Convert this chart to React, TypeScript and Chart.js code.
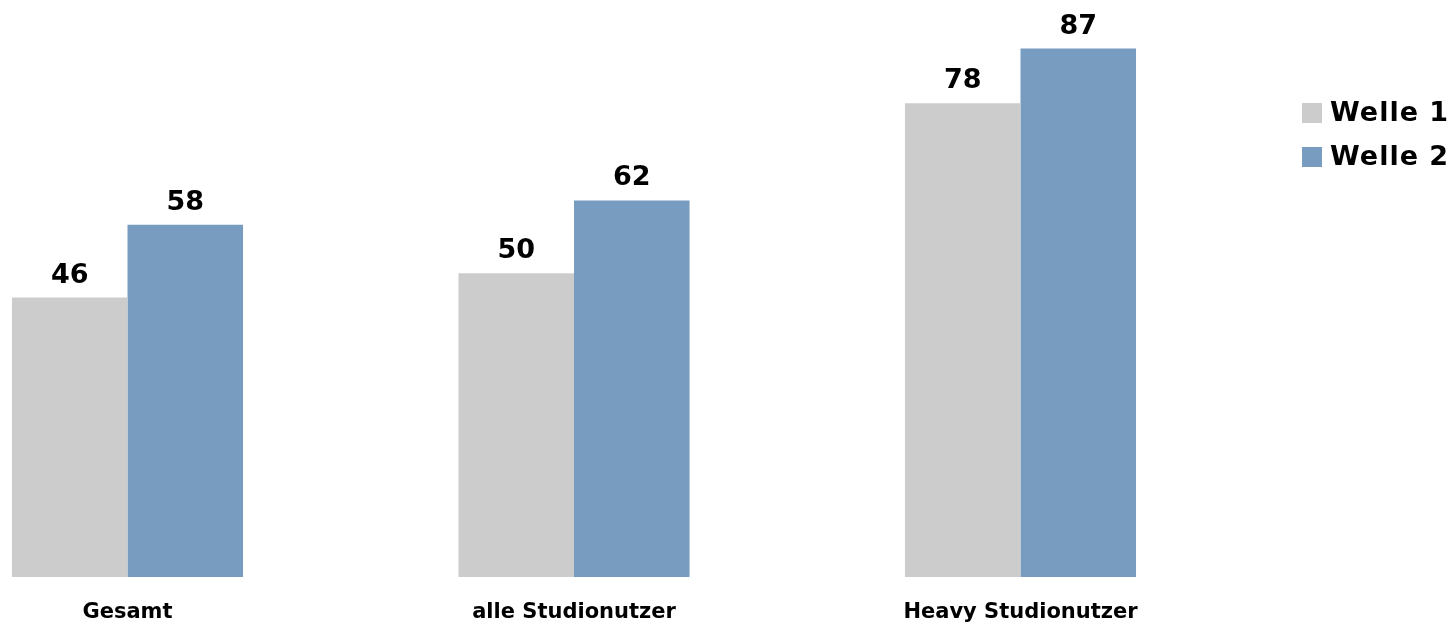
import React, { useEffect, useRef } from "react";
import { Chart, registerables } from "chart.js";

Chart.register(...registerables);

const categories = ["Gesamt", "alle Studionutzer", "Heavy Studionutzer"];
const welle1 = [46, 50, 78];
const welle2 = [58, 62, 87];
const seriesLabels = ["Welle 1", "Welle 2"];
const seriesColors = ["#CCCCCC", "#789CBF"];

const FONT = "'DejaVu Sans', Verdana, sans-serif";
const OFFSET = 100; // canvas extends left of the page so the first category is cut like the reference

const valueLabels = {
  id: "valueLabels",
  afterDatasetsDraw(chart: any) {
    const ctx = chart.ctx;
    ctx.save();
    ctx.font = `bold 27px ${FONT}`;
    ctx.fillStyle = "#000000";
    ctx.textAlign = "center";
    ctx.textBaseline = "alphabetic";
    chart.data.datasets.forEach((ds: any, di: number) => {
      const meta = chart.getDatasetMeta(di);
      meta.data.forEach((bar: any, i: number) => {
        ctx.fillText(String(ds.data[i]), bar.x, bar.y - 15);
      });
    });
    ctx.restore();
  },
};

const sideLegend = {
  id: "sideLegend",
  afterDraw(chart: any) {
    const ctx = chart.ctx;
    ctx.save();
    const x0 = chart.width - 154;
    const y0 = 103;
    chart.data.datasets.forEach((ds: any, i: number) => {
      const y = y0 + i * 44;
      ctx.fillStyle = ds.backgroundColor;
      ctx.fillRect(x0, y, 20, 20);
      ctx.fillStyle = "#000000";
      ctx.font = `bold 27px ${FONT}`;
      (ctx as any).letterSpacing = "1px";
      ctx.textAlign = "left";
      ctx.textBaseline = "middle";
      ctx.fillText(ds.label, x0 + 28, y + 11);
      (ctx as any).letterSpacing = "0px";
    });
    ctx.restore();
  },
};

export default function App() {
  const canvasRef = useRef<HTMLCanvasElement | null>(null);

  useEffect(() => {
    if (!canvasRef.current) return;
    const chart = new Chart(canvasRef.current, {
      type: "bar",
      data: {
        labels: categories,
        datasets: [
          { label: seriesLabels[0], data: welle1, backgroundColor: seriesColors[0], borderWidth: 0 },
          { label: seriesLabels[1], data: welle2, backgroundColor: seriesColors[1], borderWidth: 0 },
        ],
      },
      options: {
        animation: false,
        responsive: true,
        maintainAspectRatio: false,
        datasets: { bar: { categoryPercentage: 0.5175, barPercentage: 1.0 } },
        layout: { padding: { left: 4.25, right: 212.25, top: 0, bottom: 0 } },
        plugins: { legend: { display: false }, tooltip: { enabled: false } },
        scales: {
          x: {
            grid: { display: false, drawTicks: false },
            border: { display: false },
            ticks: {
              color: "#000000",
              font: { family: FONT, size: 21, weight: "bold" },
              padding: 23,
              maxRotation: 0,
              autoSkip: false,
            },
            afterFit(scale: any) {
              scale.height = 47;
            },
          },
          y: { display: false, min: 0, max: 95 },
        },
      },
      plugins: [valueLabels, sideLegend],
    });
    return () => chart.destroy();
  }, []);

  return (
    <div style={{ position: "fixed", left: 0, top: 0, width: 1456, height: 624, overflow: "hidden", background: "#ffffff" }}>
      <div style={{ position: "absolute", left: -OFFSET, top: 0, width: 1456 + OFFSET, height: 624 }}>
        <canvas ref={canvasRef} />
      </div>
    </div>
  );
}
